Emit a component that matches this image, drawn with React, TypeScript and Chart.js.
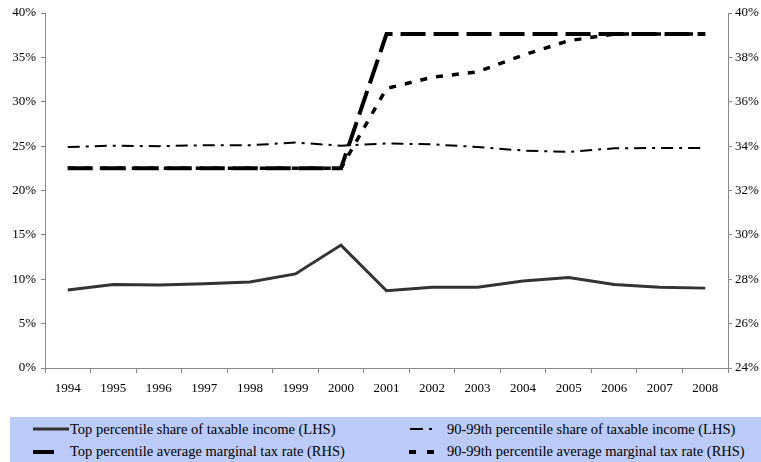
import React, { useEffect, useRef } from "react";
import { Chart, registerables } from "chart.js";

Chart.register(...registerables);

const years = ["1994","1995","1996","1997","1998","1999","2000","2001","2002","2003","2004","2005","2006","2007","2008"];
const topShare = [8.8, 9.4, 9.35, 9.5, 9.7, 10.6, 13.85, 8.7, 9.1, 9.1, 9.8, 10.2, 9.4, 9.1, 9.0];
const p9099Share = [24.9, 25.05, 25.0, 25.1, 25.1, 25.4, 25.05, 25.3, 25.2, 24.9, 24.5, 24.35, 24.75, 24.8, 24.8];
const topTax = [33.0, 33.0, 33.0, 33.0, 33.0, 33.0, 33.0, 39.05, 39.05, 39.05, 39.05, 39.05, 39.05, 39.05, 39.05];
const p9099Tax = [33.0, 33.0, 33.0, 33.0, 33.0, 33.0, 33.0, 36.6, 37.1, 37.35, 38.1, 38.75, 39.05, 39.05, 39.05];

const labelTop = "Top percentile share of taxable income (LHS)";
const label9099 = "90-99th percentile share of taxable income (LHS)";
const labelTopTax = "Top percentile average marginal tax rate (RHS)";
const label9099Tax = "90-99th percentile average marginal tax rate (RHS)";

const FONT = "'Liberation Serif', 'Times New Roman', serif";

export default function App() {
  const ref = useRef<HTMLCanvasElement | null>(null);

  useEffect(() => {
    document.body.style.margin = "0";
    const ctx = ref.current!.getContext("2d")!;
    const axisColor = "#888888";
    const chart = new Chart(ctx, {
      type: "line",
      data: {
        labels: years,
        datasets: [
          { label: labelTop, data: topShare, yAxisID: "y", borderColor: "#333333", borderWidth: 3, pointRadius: 0, tension: 0 },
          { label: label9099, data: p9099Share, yAxisID: "y", borderColor: "#000000", borderWidth: 2, borderDash: [12, 6, 3, 6], pointRadius: 0, tension: 0 },
          { label: labelTopTax, data: topTax, yAxisID: "y2", borderColor: "#000000", borderWidth: 4, borderDash: [25, 8], pointRadius: 0, tension: 0, borderCapStyle: "butt" },
          { label: label9099Tax, data: p9099Tax, yAxisID: "y2", borderColor: "#000000", borderWidth: 3.5, borderDash: [7, 9], pointRadius: 0, tension: 0, borderCapStyle: "butt" },
        ],
      },
      options: {
        responsive: false,
        animation: false,
        layout: { padding: { top: 13, left: 0, right: 0, bottom: 0 } },
        plugins: { legend: { display: false }, tooltip: { enabled: false } },
        scales: {
          x: {
            offset: true,
            grid: { display: true, drawOnChartArea: false, drawTicks: true, tickLength: 5, color: axisColor, offset: true },
            border: { display: true, color: axisColor, width: 1 },
            ticks: { color: "#000", font: { family: FONT, size: 13 }, padding: 8, maxRotation: 0, autoSkip: false },
            afterFit: (s: any) => { s.height = 47; },
          },
          y: {
            position: "left",
            min: 0,
            max: 40,
            grid: { display: true, drawOnChartArea: false, drawTicks: true, tickLength: 4, color: axisColor },
            border: { display: true, color: axisColor, width: 1 },
            ticks: { stepSize: 5, color: "#000", font: { family: FONT, size: 13 }, padding: 5, callback: (v: any) => v + "%" },
            afterFit: (s: any) => { s.width = 45; },
          },
          y2: {
            position: "right",
            min: 24,
            max: 40,
            grid: { display: true, drawOnChartArea: false, drawTicks: true, tickLength: 4, color: axisColor },
            border: { display: true, color: axisColor, width: 1 },
            ticks: { stepSize: 2, color: "#000", font: { family: FONT, size: 13 }, padding: 3, callback: (v: any) => v + "%" },
            afterFit: (s: any) => { s.width = 33; },
          },
        },
      },
    });
    return () => chart.destroy();
  }, []);

  const textStyle: React.CSSProperties = {
    position: "absolute",
    fontFamily: FONT,
    fontSize: 14.5,
    color: "#000",
    whiteSpace: "nowrap",
    lineHeight: "17px",
  };

  return (
    <div style={{ position: "relative", width: 761, height: 462, background: "#fff", overflow: "hidden" }}>
      <canvas ref={ref} width={761} height={415} style={{ position: "absolute", left: 0, top: 0 }} />
      <div style={{ position: "absolute", left: 10, top: 417, width: 751, height: 45, background: "#bccbf7" }} />
      <svg style={{ position: "absolute", left: 0, top: 417 }} width={761} height={45}>
        <line x1={33} y1={12} x2={69} y2={12} stroke="#333" strokeWidth={3} />
        <line x1={410} y1={12} x2={438} y2={12} stroke="#000" strokeWidth={2} strokeDasharray="13 6 3 6" />
        <line x1={33} y1={35} x2={54} y2={35} stroke="#000" strokeWidth={4} />
        <line x1={409} y1={35} x2={436} y2={35} stroke="#000" strokeWidth={4} strokeDasharray="7 11" />
      </svg>
      <div style={{ ...textStyle, left: 70, top: 421 }}>{labelTop}</div>
      <div style={{ ...textStyle, left: 447, top: 421 }}>{label9099}</div>
      <div style={{ ...textStyle, left: 70, top: 443 }}>{labelTopTax}</div>
      <div style={{ ...textStyle, left: 447, top: 443 }}>{label9099Tax}</div>
    </div>
  );
}
